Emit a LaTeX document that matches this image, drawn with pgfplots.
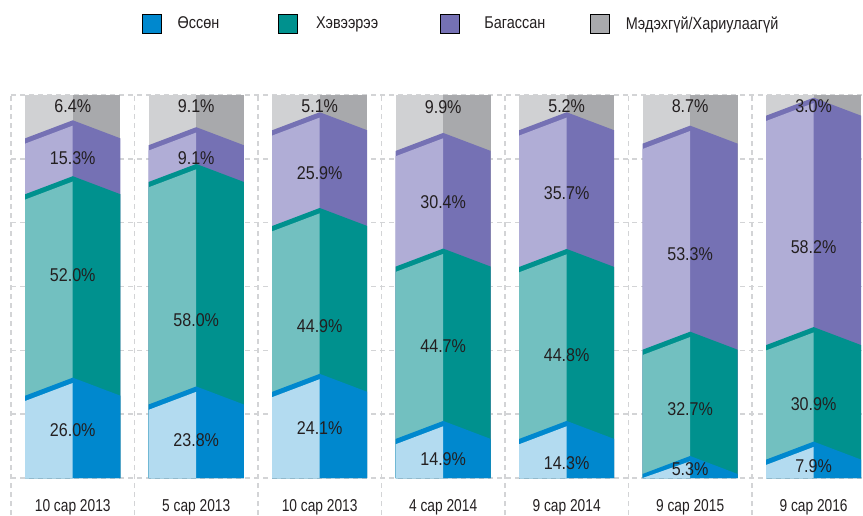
\documentclass[border=0pt]{standalone}
\usepackage{fontspec}
\setmainfont{Liberation Sans}[FakeStretch=0.85]
\newfontfamily\numfont{Liberation Sans}[FakeStretch=0.87]
\newfontfamily\catfont{Liberation Sans}[FakeStretch=0.8]
\usepackage{pgfplots}
\usepackage{pgfplotstable}
\pgfplotsset{compat=1.18}

\definecolor{blueD}{HTML}{0088CE}
\definecolor{blueL}{HTML}{B3DBF0}
\definecolor{tealD}{HTML}{00918E}
\definecolor{tealL}{HTML}{72C0C0}
\definecolor{purD}{HTML}{7571B4}
\definecolor{purL}{HTML}{B0ADD6}
\definecolor{gryD}{HTML}{A8A9AC}
\definecolor{gryL}{HTML}{D0D1D3}
\definecolor{gridc}{HTML}{D3D4D6}
\definecolor{txt}{HTML}{231F20}

\newcommand\lab{\fontsize{17}{20}\selectfont}

% height of the ridge of each boundary (bar x, between segments), as drawn
\pgfplotstableread{
x r1   r2   r3
0 26.2 78.8 93.4
1 23.9 82.0 91.6
2 27.2 70.5 95.5
3 14.9 59.9 90.1
4 14.9 59.8 95.5
5 5.75 38.2 92.0
6 9.5  39.4 99.3
}\ridges

% value labels: bar, height of the label, value
\pgfplotstableread{
x y    v
0 12.5 26.0
0 53.0 52.0
0 83.6 15.3
0 97.1 6.4
1 10.0 23.8
1 41.3 58.0
1 83.6 9.1
1 97.1 9.1
2 12.9 24.1
2 39.6 44.9
2 79.6 25.9
2 97.2 5.1
3 4.9  14.9
3 34.3 44.7
3 72.1 30.4
3 96.9 9.9
4 4.0  14.3
4 32.2 44.8
4 74.4 35.7
4 97.0 5.2
5 2.4  5.3
5 18.1 32.7
5 58.5 53.3
5 97.0 8.7
6 3.1  7.9
6 19.4 30.9
6 60.2 58.2
6 97.1 3.0
}\labels

% one boundary of bar #1: dark pentagon with ridge, light left face below the stripe
\newcommand\seg[4]{%
  \pgfplotstablegetelem{#1}{#2}\of\ridges
  \pgfmathsetmacro\rt{\pgfplotsretval}
  \pgfmathsetmacro\re{max(\rt-4.7,0)}
  \pgfmathsetmacro\rs{max(\rt-1.4,0)}
  \pgfmathsetmacro\rse{max(\rt-6.1,0)}
  \pgfmathsetmacro\xl{#1-0.385}
  \pgfmathsetmacro\xr{#1+0.385}
  \addplot[forget plot, draw=none, fill=#3] coordinates {(\xl,0) (\xl,\re) (#1,\rt) (\xr,\re) (\xr,0)};
  \addplot[forget plot, draw=none, fill=#4] coordinates {(\xl,0) (\xl,\rse) (#1,\rs) (#1,0)};
}

\begin{document}
\begin{tikzpicture}
\begin{axis}[
  at={(0pt,0pt)}, anchor=south west,
  scale only axis,
  width=852pt, height=383pt,
  xmin=-0.5, xmax=6.4,
  ymin=0, ymax=100,
  clip=false,
  no markers,
  axis line style={draw=none},
  major tick length=0pt,
  ytick={0,16.667,33.333,50,66.667,83.333,100},
  yticklabels={},
  ymajorgrids=true,
  grid style={gridc, line width=1.6pt, dash pattern=on 5pt off 4pt},
  xtick={0,...,6},
  xticklabels={10 сар 2013, 5 сар 2013, 10 сар 2013, 4 сар 2014, 9 сар 2014, 9 сар 2015, 9 сар 2016},
  xticklabel style={font=\catfont\fontsize{17.2}{20}\selectfont, text=txt, anchor=base, yshift=-33pt},
  legend columns=4,
  legend image code/.code={\fill[#1] (0pt,-9.5pt) rectangle (19pt,9.5pt);},
  legend style={at={(axis description cs:0,1)}, anchor=west, xshift=131pt, yshift=71.5pt,
    draw=none, fill=none, inner sep=0pt, font=\lab, text=txt,
    nodes={inner sep=0pt},
    /tikz/every odd column/.append style={column sep=16pt}},
]
  \addlegendimage{fill=blueD}
  \addlegendentry{\makebox[100pt][l]{Өссөн}}
  \addlegendimage{fill=tealD}
  \addlegendentry{\makebox[127pt][l]{\hspace{3pt}Хэвээрээ}}
  \addlegendimage{fill=purD}
  \addlegendentry{\makebox[115pt][l]{\hspace{9pt}Багассан}}
  \addlegendimage{fill=gryD}
  \addlegendentry{Мэдэхгүй/Хариулаагүй}

  % vertical dashed separators
  \pgfplotsinvokeforeach{-0.5,0.5,1.5,2.5,3.5,4.5,5.5}{
    \addplot[forget plot, gridc, line width=1.6pt, dash pattern=on 5pt off 4pt]
      coordinates {(#1,-9.7) (#1,100)};
  }

  \pgfplotsinvokeforeach{0,...,6}{
    \pgfmathsetmacro\xl{#1-0.385}
    \pgfmathsetmacro\xr{#1+0.385}
    \addplot[forget plot, draw=none, fill=gryL] coordinates {(\xl,0) (\xl,100) (#1,100) (#1,0)};
    \addplot[forget plot, draw=none, fill=gryD] coordinates {(#1,0) (#1,100) (\xr,100) (\xr,0)};
    \seg{#1}{r3}{purD}{purL}
    \seg{#1}{r2}{tealD}{tealL}
    \seg{#1}{r1}{blueD}{blueL}
  }

  \addplot[forget plot, draw=none, point meta=explicit,
    nodes near coords={\pgfmathprintnumber[fixed, fixed zerofill, precision=1, assume math mode=true]{\pgfplotspointmeta}\%},
    every node near coord/.append style={anchor=center, font=\numfont\fontsize{18.5}{21}\selectfont, text=txt, inner sep=0pt}]
    table[x=x, y=y, meta=v] {\labels};
\end{axis}
\pgfresetboundingbox
\path[use as bounding box] (-11pt,-37pt) rectangle (852pt,478pt);
\end{tikzpicture}
\end{document}
